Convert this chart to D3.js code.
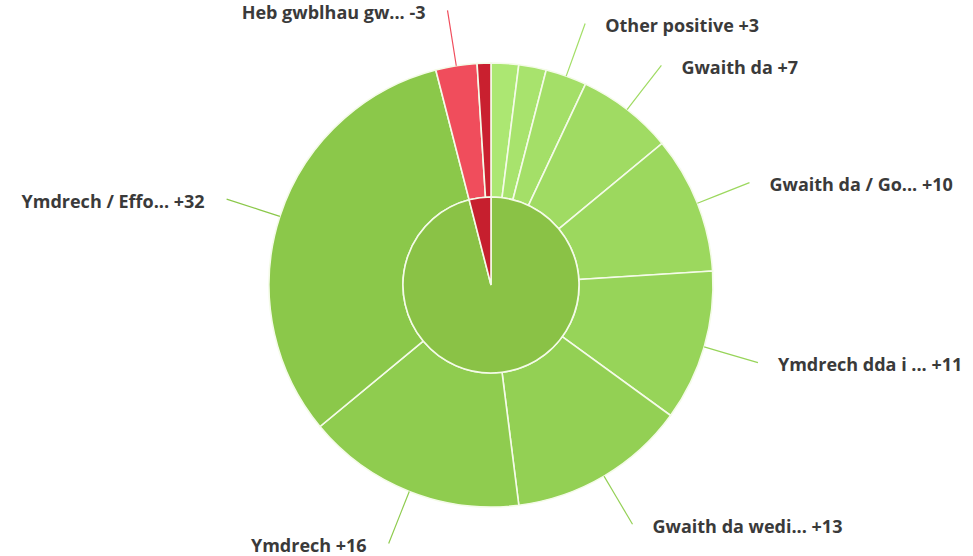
<!doctype html>
<html>
	<head>
		<meta charset="UTF-8">
		<title>Sunburst</title>
		<script src="https://d3js.org/d3.v7.min.js"></script>
		<style>
			body { margin: 0; background: #ffffff; }
		</style>
	</head>
	<body>
		<script>

// -------------------------------------- data

		// outer ring, clockwise from 12 o'clock (null = no label shown)
		var outer_names = [null, null, "Other positive", "Gwaith da", "Gwaith da / Go...", "Ymdrech dda i ...",
			"Gwaith da wedi...", "Ymdrech", "Ymdrech / Effo...", "Heb gwblhau gw...", null];
		var outer_values = [2, 2, 3, 7, 10, 11, 13, 16, 32, -3, -1];

		// inner ring
		var inner_names = ["Positive", "Negative"];

// -------------------------------------- colors

		var inner_pos_col = "#8ac246";
		var inner_neg_col = "#c61f2e";
		var green_light = "#ace772";
		var green_dark = "#8bc84a";
		var red_light = "#f04d5c";
		var red_dark = "#c9202f";
		var text_col = "#3a3a3a";
		var gap_col = "#f4fbe8";

// -------------------------------------- main settings

		var width = 973, height = 556;
		var cx = 491, cy = 285;
		var r_inner = 88, r_outer = 222, r_label = 278;

		var svg = d3.select("body").append("svg")
			.attr("width", width)
			.attr("height", height)
			.style("display", "block");

		var g = svg.append("g")
			.attr("transform", "translate(" + cx + "," + cy + ")");

// -------------------------------------- layouts

		var outer_data = outer_names.map(function(n, i) {
			return { name: n, value: outer_values[i], index: i };
		});

		var inner_values = [
			d3.sum(outer_values.filter(v => v > 0)),
			d3.sum(outer_values.filter(v => v < 0).map(v => -v))
		];
		var inner_data = inner_names.map(function(n, i) {
			return { name: n, value: inner_values[i] };
		});

		var pie = d3.pie().sort(null).value(d => Math.abs(d.value));

		var outer_arcs = pie(outer_data);
		var inner_arcs = pie(inner_data);

		var arc_outer = d3.arc().innerRadius(r_inner).outerRadius(r_outer);
		var arc_inner = d3.arc().innerRadius(0).outerRadius(r_inner);

		// colour of each outer slice: lighter for the first ones
		var pos_count = outer_values.filter(v => v > 0).length;
		var greenScale = d3.scaleLinear()
			.domain([0, pos_count - 1])
			.range([green_light, green_dark])
			.interpolate(d3.interpolateRgb);

		function sliceColor(d) {
			if (d.data.value < 0) {
				return d.data.value <= -2 ? red_light : red_dark;
			}
			return greenScale(d.data.index);
		}

// -------------------------------------- draw slices

		g.selectAll("path.outer")
			.data(outer_arcs)
			.enter().append("path")
			.attr("class", "outer")
			.attr("d", arc_outer)
			.style("fill", sliceColor)
			.style("stroke", gap_col)
			.style("stroke-width", 1.6);

		g.selectAll("path.inner")
			.data(inner_arcs)
			.enter().append("path")
			.attr("class", "inner")
			.attr("d", arc_inner)
			.style("fill", (d, i) => i === 0 ? inner_pos_col : inner_neg_col)
			.style("stroke", gap_col)
			.style("stroke-width", 1.6);

// -------------------------------------- labels + connectors

		function polar(r, a) {
			return [r * Math.sin(a), -r * Math.cos(a)];
		}

		var labelled = outer_arcs.filter(d => d.data.name !== null);

		labelled.forEach(function(d) {
			var a = (d.startAngle + d.endAngle) / 2;
			var right = Math.sin(a) >= 0;
			var edge = polar(r_outer, a);
			var brk = polar(r_outer + 22, a);
			var lab = polar(r_label, a);

			// soft connector
			var path = d3.path();
			path.moveTo(lab[0], lab[1]);
			path.bezierCurveTo(lab[0], lab[1], 2 * brk[0] - edge[0], 2 * brk[1] - edge[1], brk[0], brk[1]);
			path.lineTo(edge[0], edge[1]);

			g.append("path")
				.attr("d", path.toString())
				.style("fill", "none")
				.style("stroke", sliceColor(d))
				.style("stroke-width", 1.2);

			var v = d.data.value;
			g.append("text")
				.attr("x", lab[0] + (right ? 20 : -22))
				.attr("y", lab[1] + 4)
				.attr("text-anchor", right ? "start" : "end")
				.attr("dominant-baseline", "middle")
				.style("font-family", "'Open Sans', sans-serif")
				.style("font-weight", "bold")
				.style("font-size", "18px")
				.style("fill", text_col)
				.text(d.data.name + " " + (v > 0 ? "+" : "") + v);
		});

		</script>
	</body>
</html>
